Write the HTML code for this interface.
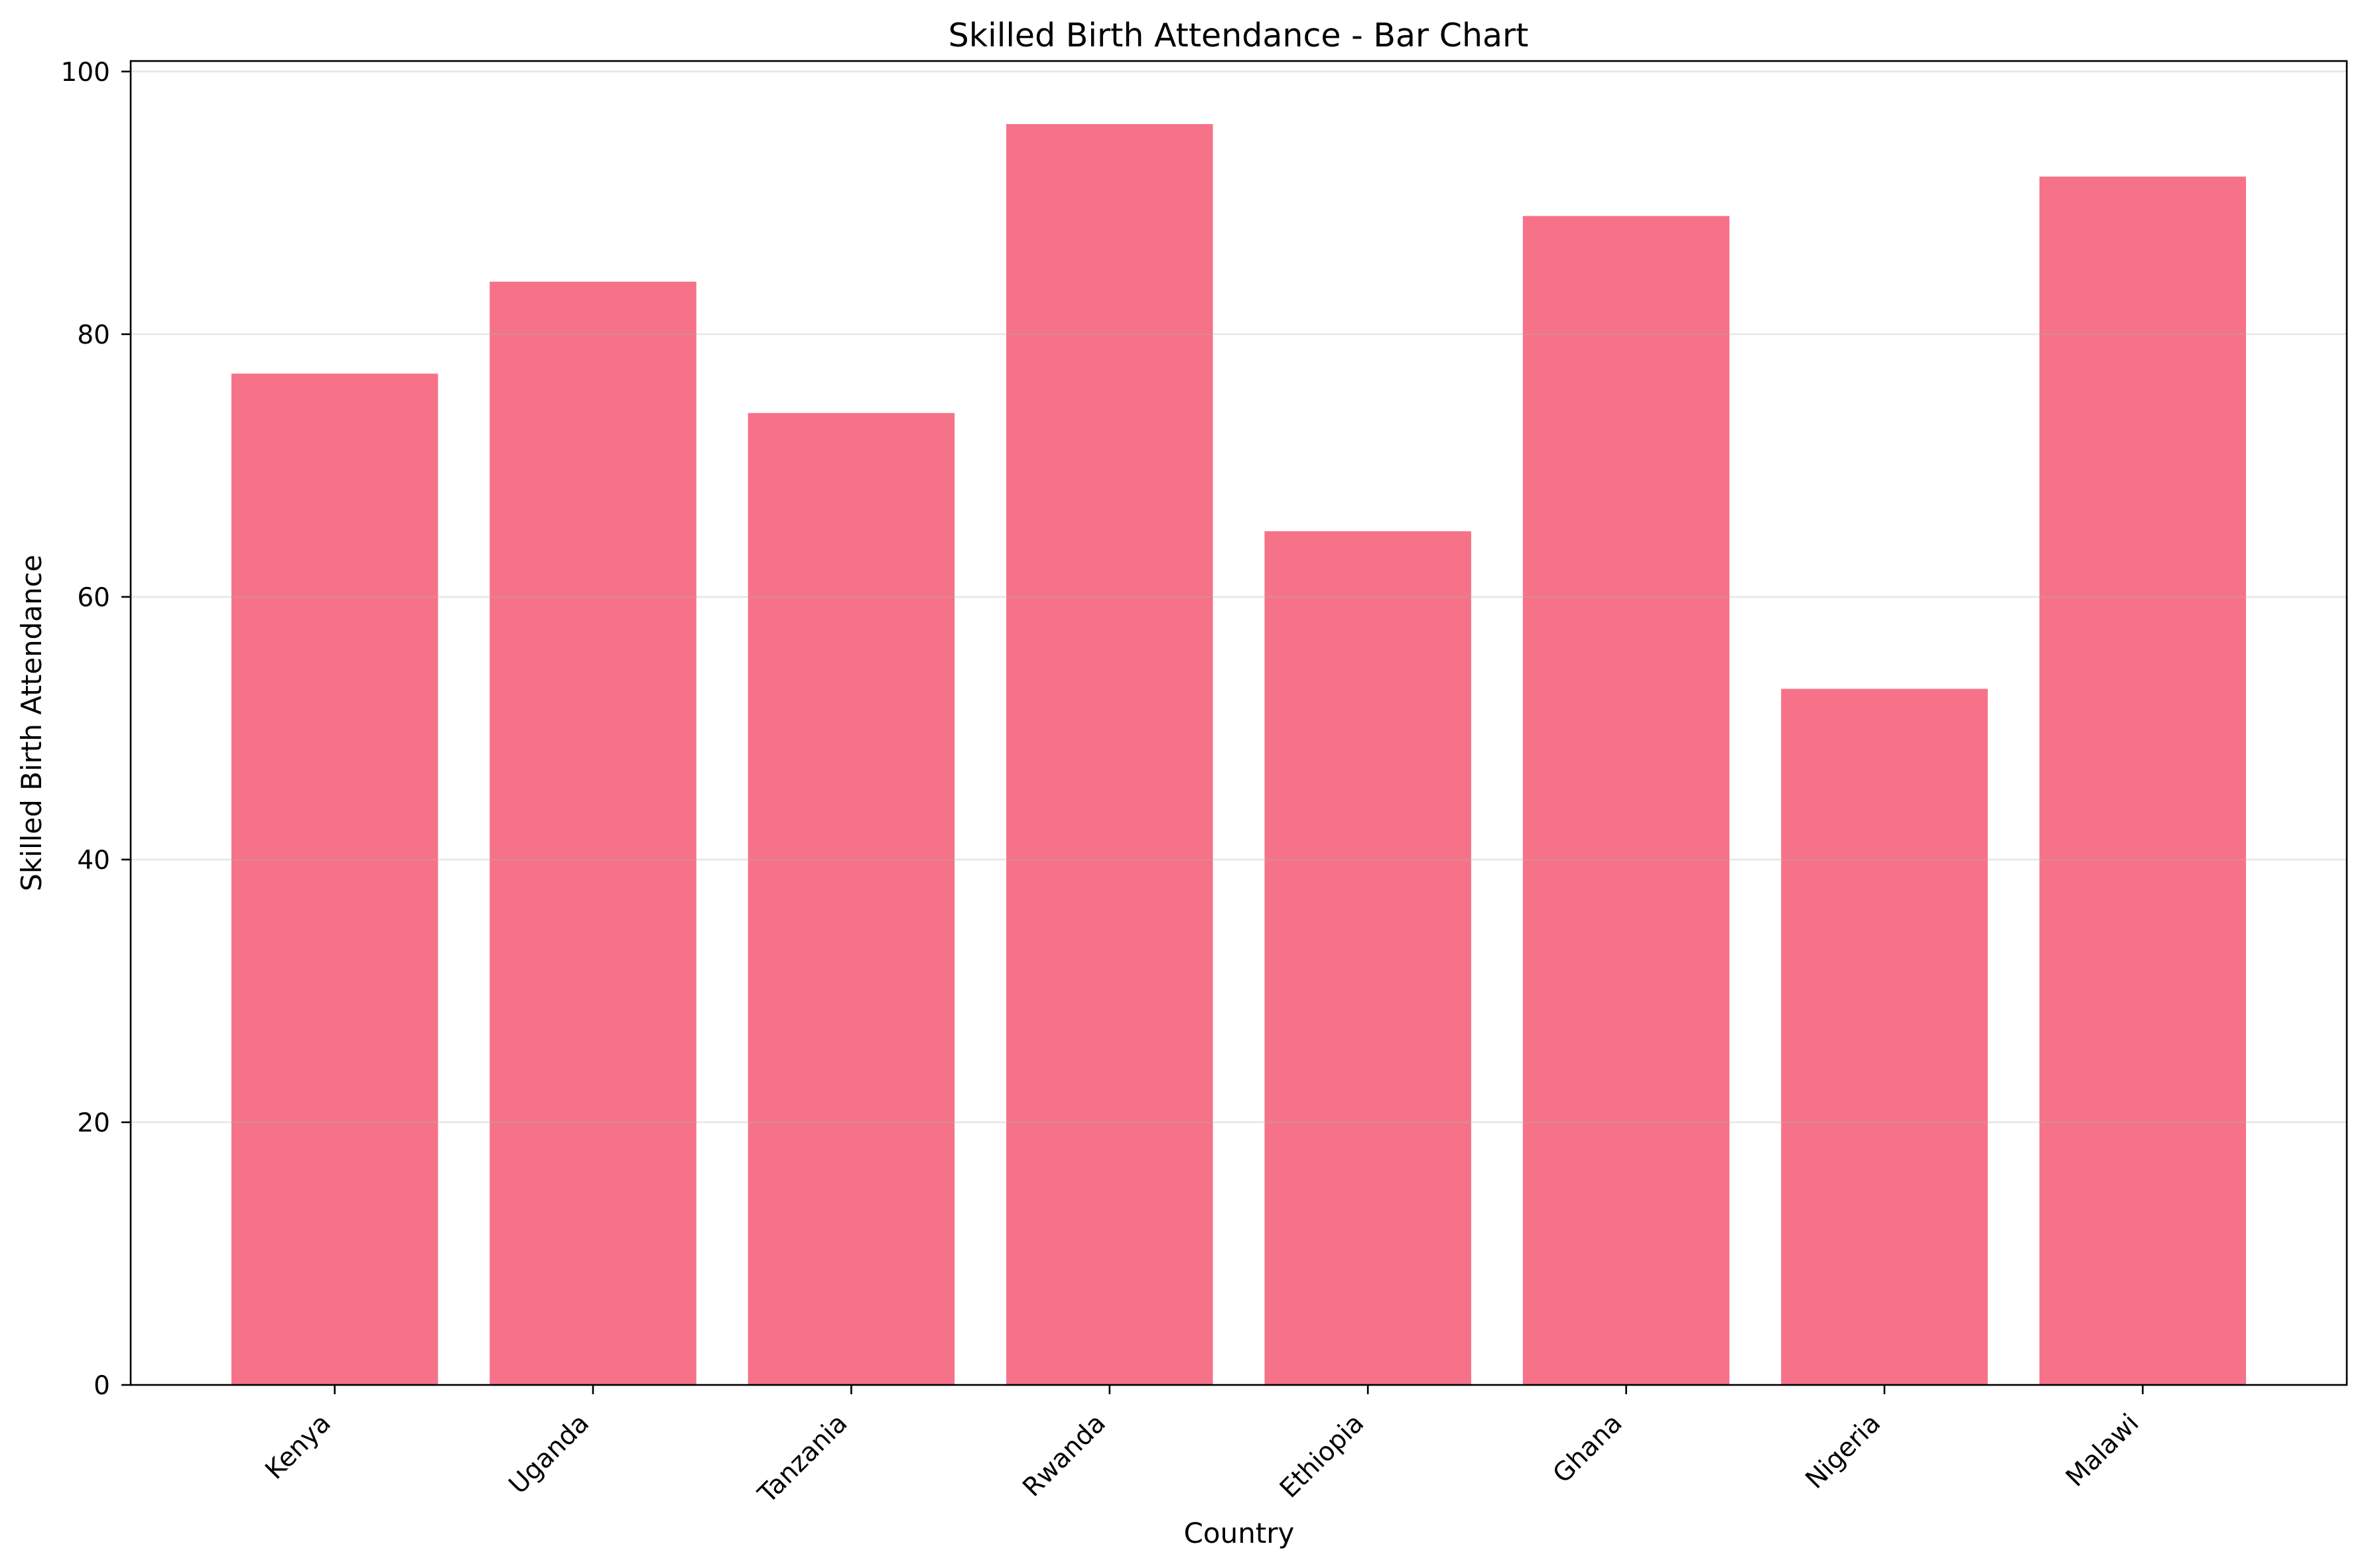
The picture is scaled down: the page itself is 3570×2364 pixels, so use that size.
<!DOCTYPE html>
<html><head><meta charset="utf-8"><style>
html,body{margin:0;padding:0;background:#fff;}
svg{display:block;font-family:"DejaVu Sans","Liberation Sans",sans-serif;}
</style></head><body>
<svg id="chart" width="3570" height="2364" viewBox="0 0 3570 2364" xmlns="http://www.w3.org/2000/svg">
<rect x="0" y="0" width="3570" height="2364" fill="#fff"/>
<text x="1867" y="70" text-anchor="middle" font-size="49" fill="#000">Skilled Birth Attendance - Bar Chart</text>
<text x="1868" y="2326" text-anchor="middle" font-size="42" fill="#000">Country</text>
<text transform="translate(62,1090) rotate(-90)" text-anchor="middle" font-size="42" fill="#000">Skilled Birth Attendance</text>
<g id="bars"></g>
<g id="grid"></g>
<g id="yticks"></g>
<g id="xticks"></g>
<rect x="197" y="92" width="3341" height="1996" fill="none" stroke="#000" stroke-width="2.6"/>
</svg>
<script>
const categories = ["Kenya","Uganda","Tanzania","Rwanda","Ethiopia","Ghana","Nigeria","Malawi"];
const values = [77, 84, 74, 96, 65, 89, 53, 92];
const yTicks = [0, 20, 40, 60, 80, 100];

const NS = "http://www.w3.org/2000/svg";
const L = 197, R = 3538, T = 92, B = 2088;
const n = categories.length;
const xMin = -0.4 - 0.05 * (n - 1 + 0.8), xMax = (n - 1) + 0.4 + 0.05 * (n - 1 + 0.8);
const yMax = Math.max(...values) * 1.05;
function xs(v){ return L + (v - xMin) / (xMax - xMin) * (R - L); }
function ys(v){ return B - v / yMax * (B - T); }
function mk(tag, attrs, parent){ const e = document.createElementNS(NS, tag); for (const k in attrs) e.setAttribute(k, attrs[k]); parent.appendChild(e); return e; }

const gBars = document.getElementById("bars");
const gGrid = document.getElementById("grid");
const gY = document.getElementById("yticks");
const gX = document.getElementById("xticks");

values.forEach((v, i) => {
  const x0 = xs(i - 0.4), x1 = xs(i + 0.4);
  const r = mk("rect", {x: x0, y: ys(v), width: x1 - x0, height: B - ys(v), fill: "#f67289"}, gBars);
  
  
});

yTicks.forEach(t => {
  const y = ys(t);
  const gl = mk("line", {x1: L, x2: R, y1: y, y2: y, stroke: "#b0b0b0", "stroke-opacity": 0.3, "stroke-width": 2.6}, gGrid);
  
  
  const tk = mk("line", {x1: L - 14, x2: L, y1: y, y2: y, stroke: "#000", "stroke-width": 2.6}, gY);
  
  
  const lb = mk("text", {x: L - 31, y: y + 14, "text-anchor": "end", "font-size": 39, fill: "#000"}, gY);
  lb.textContent = t;
  
  
});

categories.forEach((c, i) => {
  const x = xs(i);
  const tk = mk("line", {x1: x, x2: x, y1: B, y2: B + 14, stroke: "#000", "stroke-width": 2.6}, gX);
  
  
  const lb = mk("text", {transform: "translate(" + (x - 4) + "," + (B + 60) + ") rotate(-45)", "text-anchor": "end", "font-size": 39, fill: "#000"}, gX);
  lb.textContent = c;
  
  
});
</script>
</body></html>
